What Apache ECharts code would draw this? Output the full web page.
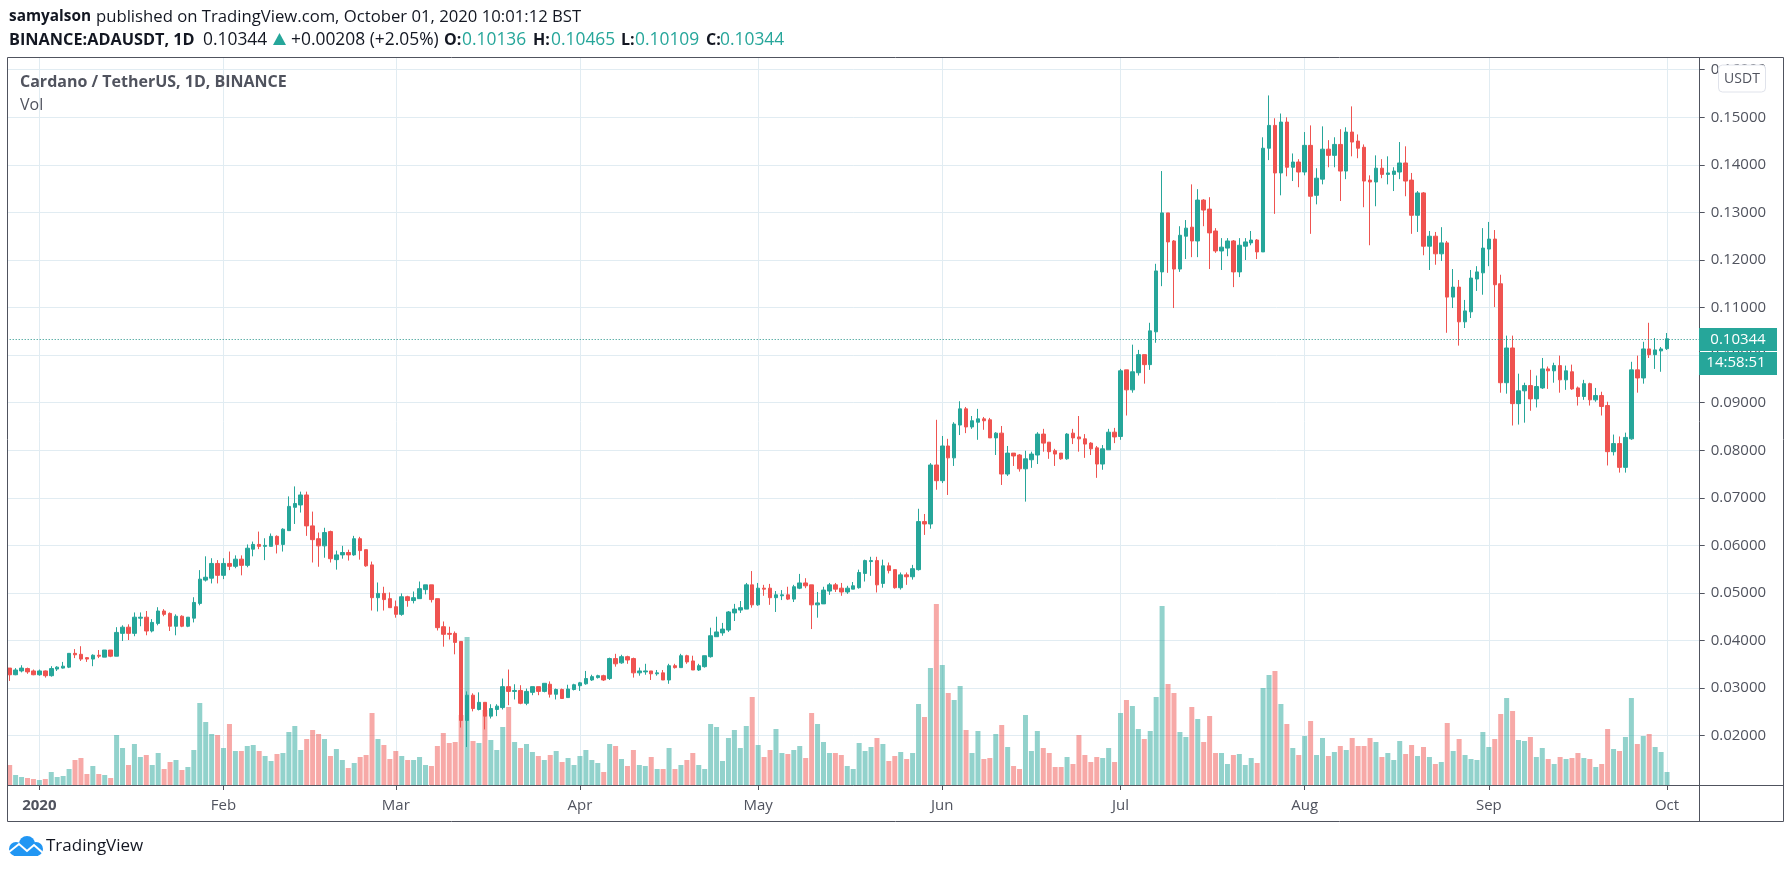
<!DOCTYPE html>
<html><head><meta charset="utf-8">
<script src="https://cdn.jsdelivr.net/npm/echarts@6/dist/echarts.min.js"></script>
<style>html,body{margin:0;padding:0;background:#fff}#c{width:1792px;height:871px}</style>
</head><body><div id="c"></div>
<script>
const opens=[.0342,.0328,.0336,.0341,.0336,.0328,.0336,.0326,.0340,.0342,
.0344,.0373,.0371,.0364,.0361,.0369,.0365,.0380,.0367,.0415,
.0428,.0415,.0447,.0449,.0420,.0436,.0462,.0457,.0430,.0451,
.0430,.0447,.0478,.0527,.0531,.0562,.0537,.0562,.0556,.0571,
.0558,.0592,.0602,.0598,.0598,.0619,.0602,.0631,.0680,.0685,
.0706,.0641,.0614,.0599,.0629,.0570,.0580,.0585,.0580,.0614,
.0591,.0559,.0490,.0499,.0488,.0471,.0455,.0492,.0484,.0488,
.0507,.0517,.0488,.0429,.0415,.0415,.0398,.0232,.0285,.0255,
.0270,.0241,.0255,.0259,.0303,.0293,.0295,.0268,.0291,.0303,
.0293,.0308,.0287,.0297,.0280,.0297,.0305,.0309,.0317,.0322,
.0326,.0320,.0362,.0353,.0366,.0362,.0332,.0334,.0336,.0330,
.0332,.0317,.0347,.0343,.0368,.0357,.0338,.0345,.0366,.0408,
.0416,.0422,.0458,.0464,.0466,.0517,.0475,.0510,.0510,.0490,
.0494,.0496,.0487,.0510,.0521,.0517,.0475,.0477,.0504,.0517,
.0510,.0502,.0508,.0511,.0541,.0566,.0568,.0520,.0557,.0549,
.0511,.0538,.0534,.0549,.0650,.0645,.0769,.0736,.0809,.0784,
.0853,.0887,.0849,.0859,.0866,.0864,.0826,.0836,.0750,.0794,
.0790,.0761,.0780,.0790,.0834,.0817,.0799,.0794,.0782,.0836,
.0828,.0824,.0815,.0805,.0771,.0801,.0838,.0829,.0969,.0927,
.0963,.1001,.0980,.1049,.1175,.1299,.1240,.1181,.1250,.1269,
.1240,.1326,.1307,.1261,.1219,.1225,.1240,.1175,.1229,.1236,
.1242,.1217,.1435,.1483,.1383,.1490,.1395,.1406,.1385,.1441,
.1336,.1370,.1433,.1420,.1443,.1387,.1469,.1450,.1437,.1368,
.1364,.1393,.1380,.1380,.1385,.1404,.1368,.1294,.1341,.1229,
.1250,.1213,.1236,.1122,.1143,.1070,.1091,.1160,.1173,.1223,
.1244,.1150,.0942,.1015,.0898,.0925,.0936,.0908,.0931,.0971,
.0967,.0978,.0948,.0965,.0931,.0913,.0940,.0906,.0915,.0894,
.0797,.0814,.0764,.0824,.0969,.0952,.1013,.1001,.1009,.10136];
const closes=[.0328,.0338,.0342,.0334,.0328,.0336,.0326,.0341,.0344,.0346,
.0373,.0370,.0361,.0361,.0369,.0367,.0380,.0367,.0417,.0428,
.0415,.0449,.0449,.0420,.0438,.0462,.0455,.0430,.0451,.0430,
.0449,.0480,.0529,.0533,.0562,.0537,.0562,.0556,.0571,.0558,
.0594,.0602,.0598,.0600,.0619,.0602,.0634,.0682,.0688,.0706,
.0641,.0612,.0599,.0627,.0572,.0580,.0585,.0580,.0614,.0589,
.0557,.0490,.0499,.0486,.0469,.0455,.0492,.0484,.0490,.0509,
.0517,.0486,.0427,.0413,.0413,.0396,.0232,.0285,.0257,.0270,
.0241,.0257,.0262,.0303,.0293,.0295,.0268,.0293,.0303,.0293,
.0310,.0287,.0297,.0278,.0298,.0307,.0311,.0320,.0324,.0326,
.0317,.0362,.0351,.0366,.0359,.0332,.0336,.0336,.0330,.0332,
.0317,.0347,.0343,.0368,.0355,.0338,.0347,.0368,.0410,.0418,
.0424,.0460,.0466,.0469,.0517,.0475,.0510,.0508,.0490,.0496,
.0496,.0487,.0513,.0521,.0515,.0475,.0479,.0506,.0517,.0508,
.0502,.0510,.0515,.0543,.0568,.0568,.0517,.0557,.0547,.0511,
.0538,.0534,.0551,.0650,.0645,.0769,.0736,.0809,.0784,.0855,
.0887,.0849,.0862,.0866,.0862,.0826,.0836,.0750,.0794,.0788,
.0761,.0782,.0792,.0834,.0815,.0797,.0792,.0782,.0834,.0826,
.0824,.0813,.0803,.0771,.0803,.0838,.0828,.0967,.0927,.0965,
.1001,.0980,.1051,.1177,.1299,.1238,.1181,.1252,.1267,.1240,
.1326,.1305,.1257,.1219,.1227,.1240,.1175,.1231,.1238,.1242,
.1217,.1435,.1483,.1383,.1490,.1395,.1406,.1385,.1441,.1334,
.1372,.1433,.1420,.1443,.1387,.1469,.1448,.1435,.1366,.1364,
.1393,.1380,.1383,.1387,.1404,.1366,.1294,.1341,.1229,.1250,
.1213,.1236,.1122,.1143,.1070,.1093,.1162,.1175,.1225,.1244,
.1148,.0942,.1015,.0898,.0925,.0936,.0908,.0934,.0971,.0967,
.0978,.0948,.0967,.0929,.0913,.0940,.0906,.0915,.0892,.0797,
.0814,.0764,.0827,.0969,.0952,.1013,.1001,.1011,.1013,.10344];
const lows=[.0315,.0327,.0333,.0330,.0327,.0326,.0322,.0324,.0336,.0341,
.0342,.0363,.0357,.0355,.0346,.0363,.0365,.0365,.0367,.0399,
.0401,.0409,.0430,.0411,.0417,.0432,.0451,.0420,.0411,.0428,
.0428,.0438,.0474,.0524,.0520,.0520,.0529,.0548,.0552,.0537,
.0554,.0577,.0592,.0569,.0598,.0583,.0587,.0631,.0645,.0669,
.0620,.0564,.0555,.0574,.0564,.0549,.0572,.0568,.0578,.0570,
.0555,.0463,.0461,.0463,.0469,.0448,.0452,.0471,.0478,.0488,
.0497,.0480,.0421,.0387,.0402,.0371,.0217,.0176,.0251,.0253,
.0213,.0236,.0241,.0255,.0264,.0276,.0266,.0264,.0285,.0285,
.0291,.0280,.0276,.0278,.0280,.0295,.0294,.0307,.0315,.0320,
.0315,.0317,.0345,.0351,.0351,.0322,.0326,.0328,.0317,.0326,
.0317,.0309,.0341,.0343,.0351,.0338,.0336,.0343,.0364,.0408,
.0410,.0418,.0441,.0458,.0466,.0469,.0473,.0494,.0475,.0460,
.0485,.0485,.0481,.0508,.0510,.0424,.0448,.0477,.0496,.0502,
.0494,.0498,.0508,.0509,.0524,.0536,.0501,.0511,.0541,.0509,
.0507,.0517,.0528,.0547,.0622,.0635,.0717,.0731,.0706,.0767,
.0832,.0836,.0845,.0822,.0843,.0826,.0790,.0727,.0746,.0767,
.0755,.0692,.0763,.0771,.0797,.0782,.0767,.0780,.0780,.0813,
.0797,.0784,.0790,.0742,.0759,.0801,.0815,.0822,.0873,.0921,
.0957,.0940,.0969,.1026,.1145,.1173,.1099,.1175,.1202,.1206,
.1206,.1271,.1181,.1215,.1179,.1208,.1143,.1164,.1200,.1231,
.1202,.1217,.1410,.1297,.1336,.1376,.1366,.1353,.1378,.1255,
.1317,.1359,.1395,.1395,.1324,.1370,.1418,.1414,.1311,.1231,
.1313,.1372,.1359,.1345,.1370,.1334,.1255,.1259,.1210,.1179,
.1190,.1198,.1047,.1099,.1020,.1057,.1078,.1135,.1127,.1187,
.1101,.0921,.0919,.0852,.0854,.0858,.0883,.0890,.0929,.0929,
.0942,.0921,.0927,.0927,.0894,.0906,.0894,.0902,.0873,.0768,
.0789,.0753,.0753,.0822,.0921,.0940,.0994,.0971,.0965,.10109];
const highs=[.0342,.0342,.0348,.0343,.0339,.0339,.0337,.0346,.0346,.0355,
.0373,.0382,.0388,.0365,.0371,.0380,.0380,.0380,.0428,.0432,
.0434,.0459,.0459,.0462,.0445,.0470,.0466,.0459,.0455,.0453,
.0449,.0491,.0548,.0577,.0573,.0569,.0573,.0587,.0579,.0579,
.0602,.0608,.0629,.0615,.0625,.0621,.0636,.0703,.0724,.0713,
.0713,.0671,.0627,.0637,.0631,.0589,.0599,.0591,.0620,.0618,
.0591,.0566,.0522,.0513,.0501,.0484,.0499,.0494,.0503,.0524,
.0517,.0517,.0488,.0440,.0429,.0419,.0398,.0293,.0289,.0291,
.0270,.0266,.0266,.0320,.0339,.0308,.0306,.0299,.0303,.0303,
.0310,.0314,.0299,.0299,.0307,.0309,.0313,.0336,.0328,.0328,
.0328,.0364,.0372,.0370,.0368,.0364,.0343,.0351,.0336,.0338,
.0338,.0351,.0351,.0372,.0370,.0368,.0351,.0368,.0427,.0450,
.0437,.0462,.0477,.0483,.0521,.0546,.0521,.0517,.0519,.0504,
.0506,.0513,.0517,.0540,.0531,.0517,.0502,.0513,.0521,.0521,
.0521,.0515,.0523,.0549,.0570,.0576,.0576,.0570,.0564,.0549,
.0543,.0543,.0559,.0677,.0666,.0773,.0864,.0830,.0824,.0859,
.0903,.0891,.0872,.0887,.0870,.0868,.0838,.0851,.0809,.0794,
.0792,.0799,.0797,.0838,.0845,.0817,.0803,.0794,.0836,.0845,
.0872,.0834,.0817,.0809,.0811,.0845,.0847,.0971,.0969,.1022,
.1011,.1001,.1068,.1192,.1387,.1299,.1242,.1271,.1284,.1359,
.1349,.1328,.1332,.1267,.1246,.1246,.1242,.1246,.1246,.1261,
.1244,.1458,.1546,.1498,.1508,.1500,.1424,.1412,.1469,.1483,
.1393,.1481,.1452,.1458,.1475,.1479,.1523,.1464,.1443,.1378,
.1420,.1412,.1418,.1395,.1448,.1439,.1383,.1345,.1343,.1261,
.1259,.1269,.1240,.1181,.1158,.1116,.1179,.1187,.1267,.1280,
.1263,.1169,.1041,.1041,.0961,.0942,.0969,.0957,.0994,.0976,
.0984,.0999,.0978,.0980,.0934,.0948,.0942,.0931,.0923,.0902,
.0833,.0829,.0837,.0986,.0999,.1028,.1068,.1036,.1017,.10465];
const volumes=[60,30,24,21,18,15,18,39,24,27,
48,75,81,33,57,33,30,21,150,111,
60,123,84,90,60,96,48,69,75,45,
54,105,246,189,153,150,111,183,102,102,
117,120,102,87,72,93,96,159,177,105,
138,165,153,138,87,108,75,51,66,84,
90,216,138,120,78,102,87,75,75,84,
60,57,117,156,126,129,210,444,132,126,
225,135,105,174,234,129,111,123,99,87,
75,90,102,69,81,60,87,105,75,66,
39,123,117,78,57,105,60,57,84,48,
48,111,48,60,75,96,60,48,183,174,
72,141,165,111,177,264,120,84,105,168,
96,93,105,117,81,216,183,129,96,96,
90,57,48,126,102,114,141,123,72,87,
99,78,96,243,204,351,543,360,276,255,
297,165,96,162,78,81,153,180,114,57,
48,210,102,162,111,96,54,54,84,63,
150,90,69,84,81,111,69,216,255,237,
168,138,162,264,537,303,276,159,144,234,
198,129,207,96,96,63,90,93,60,81,
66,291,330,342,243,183,111,90,147,192,
90,141,87,99,117,105,141,117,117,141,
129,84,96,75,132,93,120,87,114,84,
63,69,186,102,138,90,78,75,159,114,
138,213,261,222,135,132,144,84,111,78,
63,84,78,81,96,81,78,54,63,168,
108,102,144,261,123,147,153,114,99,39];
const monthLabels={5:'2020',36:'Feb',65:'Mar',96:'Apr',126:'May',157:'Jun',187:'Jul',218:'Aug',249:'Sep',279:'Oct'};
const priceTicks=[.02,.03,.04,.05,.06,.07,.08,.09,.10,.11,.12,.13,.14,.15,.16];
const lastPrice=.10344;
const bandCount=285;

const UP='#26a69a',DOWN='#ef5350',INK='#50535e',GRID='#e1ecf2',DARK='#131722';
const FONT='"Open Sans",sans-serif';
const cats=[];for(let i=0;i<bandCount;i++){const d=new Date(Date.UTC(2019,11,27+i));cats.push(d.toISOString().slice(0,10));}
const isMonth=i=>monthLabels[i]!==undefined;
const candle=opens.map((o,i)=>[o,closes[i],lows[i],highs[i]]);
const rect={left:6.7,top:58,width:1693,height:727};
const txt=(x,y,s,o={})=>({type:'text',x,y,z:30,style:{text:s,fontFamily:FONT,fontSize:o.size||16,fontWeight:o.w||'normal',fill:o.c||DARK,textVerticalAlign:'middle',textAlign:o.a||'left'}});
const line=(x1,y1,x2,y2,c)=>({type:'line',z:25,silent:true,shape:{x1,y1,x2,y2},style:{stroke:c||INK,lineWidth:1}});
const chart=echarts.init(document.getElementById('c'),null,{renderer:'canvas'});
chart.setOption({
 animation:false,backgroundColor:'#fff',
 grid:[Object.assign({},rect),Object.assign({},rect)],
 xAxis:[{type:'category',data:cats,gridIndex:0,boundaryGap:true,
   axisLine:{show:true,lineStyle:{color:INK,width:1}},
   axisTick:{show:true,alignWithLabel:true,interval:i=>isMonth(i),length:5,lineStyle:{color:INK}},
   axisLabel:{interval:i=>isMonth(i),hideOverlap:false,margin:13,color:INK,fontFamily:FONT,fontSize:15,
     formatter:(v,i)=>monthLabels[i]==='2020'?'{b|2020}':(monthLabels[i]||''),rich:{b:{fontWeight:'bold',color:INK,fontFamily:FONT,fontSize:15}}},
   splitLine:{show:true,alignWithLabel:true,interval:i=>isMonth(i),lineStyle:{color:GRID,width:1}}},
  {type:'category',data:cats,gridIndex:1,show:false}],
 yAxis:[{type:'value',gridIndex:0,position:'right',min:.00962,max:.16247,scale:true,
   axisLine:{show:true,lineStyle:{color:INK,width:1}},
   axisTick:{show:true,length:5,customValues:priceTicks,lineStyle:{color:INK}},
   axisLabel:{customValues:priceTicks,margin:11,color:INK,fontFamily:FONT,fontSize:15,formatter:v=>v.toFixed(5)},
   splitLine:{show:true,lineStyle:{color:GRID,width:1}}},
  {type:'value',gridIndex:1,min:0,max:2181,show:false,splitLine:{show:false}}],
 series:[
  {type:'bar',name:'Vol',xAxisIndex:1,yAxisIndex:1,data:volumes,barWidth:5,z:2,silent:true,
   itemStyle:{opacity:.5,color:p=>closes[p.dataIndex]>=opens[p.dataIndex]?UP:DOWN}},
  {type:'candlestick',name:'ADAUSDT',xAxisIndex:0,yAxisIndex:0,data:candle,barWidth:4,z:3,silent:true,
   itemStyle:{color:UP,color0:DOWN,borderColor:UP,borderColor0:DOWN,borderWidth:1},
   markLine:{silent:true,symbol:'none',precision:5,label:{show:false},animation:false,data:[{yAxis:lastPrice}],lineStyle:{color:'#1b8f84',type:[1,2],width:1,opacity:1}}}
 ],
 graphic:{elements:[
  {type:'rect',z:24,silent:true,shape:{x:0,y:50,width:7.5,height:780},style:{fill:'#fff'}},
  {type:'rect',z:25,silent:true,shape:{x:7.5,y:57.5,width:1776,height:764},style:{fill:'none',stroke:INK,lineWidth:1}},
  line(1700,785.5,1783,785.5),line(1699.5,785,1699.5,822),
  txt(9,17,'samyalson',{w:'bold',size:15.4}),txt(96,17,'published on TradingView.com, October 01, 2020 10:01:12 BST',{size:16.7}),
  txt(9,40,'BINANCE:ADAUSDT, 1D',{w:'bold',size:16.3}),txt(203,40,'0.10344',{size:17.4}),
  {type:'polygon',z:30,shape:{points:[[279.5,33],[286,45],[273,45]]},style:{fill:UP}},
  txt(291,40,'+0.00208 (+2.05%)',{size:17.4}),
  txt(444,40,'O:',{w:'bold'}),txt(462,40,'0.10136',{c:UP,size:17.4}),
  txt(533,40,'H:',{w:'bold'}),txt(551,40,'0.10465',{c:UP,size:17.4}),
  txt(621,40,'L:',{w:'bold'}),txt(635,40,'0.10109',{c:UP,size:17.4}),
  txt(706,40,'C:',{w:'bold'}),txt(720,40,'0.10344',{c:UP,size:17.4}),
  txt(20,82,'Cardano / TetherUS, 1D, BINANCE',{w:'bold',c:INK,size:16}),txt(20,105,'Vol',{c:INK}),
  {type:'rect',z:31,shape:{x:1718.5,y:65,width:47,height:27,r:4},style:{fill:'#fff',stroke:'#e0e3eb',lineWidth:1}},
  Object.assign(txt(1742,79,'USDT',{c:INK,size:14,a:'center'}),{z:32}),
  {type:'rect',z:31,shape:{x:1699,y:328,width:78,height:23},style:{fill:UP}},
  {type:'rect',z:31,shape:{x:1699,y:352,width:78,height:23},style:{fill:UP}},
  Object.assign(txt(1738,340,'0.10344',{c:'#fff',size:15,a:'center'}),{z:32}),
  Object.assign(txt(1736,363,'14:58:51',{c:'#fff',size:15,a:'center'}),{z:32}),
  {type:'circle',z:30,shape:{cx:27,cy:844,r:8},style:{fill:'#2196f3'}},
  {type:'circle',z:30,shape:{cx:16,cy:849,r:7},style:{fill:'#2196f3'}},
  {type:'circle',z:30,shape:{cx:36,cy:849,r:7},style:{fill:'#2196f3'}},
  {type:'rect',z:30,shape:{x:14,y:848,width:24,height:8},style:{fill:'#2196f3'}},
  {type:'polyline',z:31,shape:{points:[[9,852],[19,844],[27,851],[34,845],[43,853]]},style:{stroke:'#fff',fill:'none',lineWidth:2}},
  txt(46,846,'TradingView',{size:17,c:DARK})
 ]}
});
</script></body></html>
